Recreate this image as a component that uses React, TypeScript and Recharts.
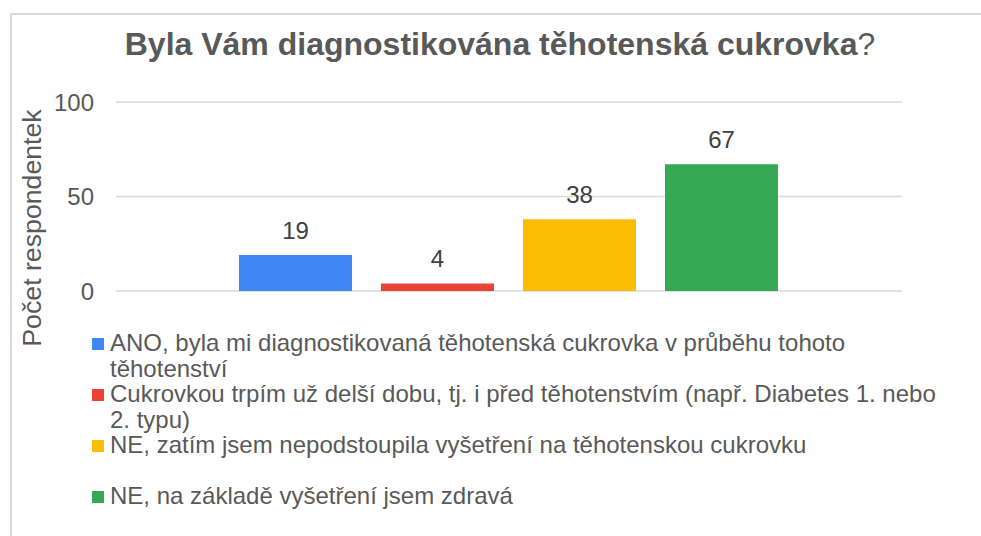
import { Bar, BarChart, CartesianGrid, LabelList, XAxis, YAxis } from "recharts";

// data
const categories = [""];
const seriesNames = [
  "ANO, byla mi diagnostikovaná těhotenská cukrovka v průběhu tohoto těhotenství",
  "Cukrovkou trpím už delší dobu, tj. i před těhotenstvím (např. Diabetes 1. nebo 2. typu)",
  "NE, zatím jsem nepodstoupila vyšetření na těhotenskou cukrovku",
  "NE, na základě vyšetření jsem zdravá",
];
const seriesValues = [19, 4, 38, 67];
const yTicks = [0, 50, 100];

const COLORS = ["#4285F4", "#EA4335", "#FBBC04", "#34A853"];
const FONT = '"Liberation Sans", Arial, sans-serif';

const data = categories.map((name) => {
  const row: Record<string, any> = { name };
  seriesValues.forEach((v, i) => {
    row[`s${i}`] = v;
  });
  return row;
});

export default function App() {
  return (
    <div
      style={{
        position: "fixed",
        left: 0,
        top: 0,
        width: 981,
        height: 536,
        overflow: "hidden",
        background: "#fff",
        fontFamily: FONT,
      }}
    >
      <style>{"html, body { overflow: hidden; margin: 0; }"}</style>

      {/* rámeček grafu - jen horní a levá hrana jsou vidět */}
      <div
        style={{
          position: "absolute",
          left: 10,
          top: 13,
          width: 1100,
          height: 700,
          borderTop: "2px solid #d9d9d9",
          borderLeft: "2px solid #d9d9d9",
          boxSizing: "border-box",
        }}
      />

      <div
        style={{
          position: "absolute",
          left: 0,
          top: 29,
          width: 1000,
          textAlign: "center",
          fontSize: 32,
          lineHeight: "30px",
          color: "#595959",
          whiteSpace: "nowrap",
        }}
      >
        <b>Byla Vám diagnostikována těhotenská cukrovka</b>?
      </div>

      <div
        style={{
          position: "absolute",
          left: 32,
          top: 228,
          transform: "translate(-50%, -50%) rotate(-90deg)",
          fontSize: 26.7,
          lineHeight: 1,
          color: "#595959",
          whiteSpace: "nowrap",
        }}
      >
        Počet respondentek
      </div>

      <div style={{ position: "absolute", left: 0, top: 0 }}>
        <BarChart
          width={981}
          height={320}
          data={data}
          margin={{ top: 102, right: 79, bottom: 29, left: 56 }}
          barCategoryGap={123}
          barGap={29}
        >
          <CartesianGrid vertical={false} stroke="#d9d9d9" strokeWidth={1.5} />
          <XAxis dataKey="name" hide />
          <YAxis
            width={60}
            domain={[0, 100]}
            ticks={yTicks}
            axisLine={false}
            tickLine={false}
            tickSize={0}
            tickMargin={22}
            tick={{ fill: "#595959", fontSize: 24, fontFamily: FONT }}
          />
          {seriesNames.map((n, i) => (
            <Bar key={n} dataKey={`s${i}`} name={n} fill={COLORS[i]} isAnimationActive={false}>
              <LabelList
                dataKey={`s${i}`}
                position="top"
                offset={16}
                fill="#404040"
                fontSize={24}
                fontFamily={FONT}
              />
            </Bar>
          ))}
        </BarChart>
      </div>

      {/* legenda */}
      <div style={{ position: "absolute", left: 92, top: 330 }}>
        {seriesNames.map((n, i) => (
          <div key={n} style={{ position: "relative", height: 51, width: 860 }}>
            <div
              style={{
                position: "absolute",
                left: 0,
                top: 7.5,
                width: 12,
                height: 12,
                background: COLORS[i],
              }}
            />
            <div
              style={{
                position: "absolute",
                left: 18,
                top: 0,
                width: 838,
                fontSize: 24,
                lineHeight: "25.5px",
                color: "#595959",
              }}
            >
              {n}
            </div>
          </div>
        ))}
      </div>
    </div>
  );
}
